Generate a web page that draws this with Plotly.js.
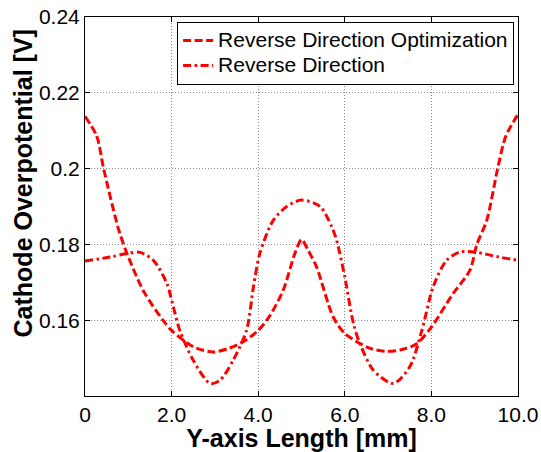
<!DOCTYPE html>
<html>
<head>
<meta charset="utf-8">
<script src="https://cdn.plot.ly/plotly-3.0.1.min.js"></script>
<style>
  html, body { margin: 0; padding: 0; background: #fff; }
  #chart { width: 541px; height: 452px; }
</style>
</head>
<body>
<div id="chart"></div>
<script>
// Cathode overpotential along the Y axis for two flow configurations
var seriesNames = ['Reverse Direction Optimization', 'Reverse Direction'];

var optX = [0, 0.27, 0.43, 0.78, 0.97, 1.35, 1.8, 2.0, 2.5, 2.96, 3.3, 3.65, 4.0, 4.27, 4.58, 4.85, 5.0, 5.15, 5.35, 5.73, 6.0, 6.58, 6.97, 7.3, 7.66, 8.0, 8.5, 8.89, 9.05, 9.28, 9.53, 9.72, 10.0];
var optY = [0.2138, 0.2086, 0.2000, 0.1838, 0.1776, 0.1677, 0.1600, 0.1573, 0.1530, 0.1516, 0.1525, 0.1543, 0.1573, 0.1612, 0.1680, 0.1777, 0.1813, 0.1785, 0.1740, 0.1609, 0.1565, 0.1526, 0.1518, 0.1522, 0.1538, 0.1582, 0.1670, 0.1732, 0.1800, 0.1864, 0.2000, 0.2086, 0.2143];

var revX = [0, 0.6, 0.96, 1.27, 1.58, 1.89, 2.04, 2.19, 2.5, 2.89, 3.12, 3.42, 3.73, 3.89, 4.04, 4.35, 4.66, 5.0, 5.43, 5.7, 5.81, 6.0, 6.2, 6.35, 6.66, 7.12, 7.5, 7.78, 8.04, 8.35, 8.66, 9.05, 9.5, 10.0];
var revY = [0.1756, 0.1767, 0.1776, 0.1779, 0.1758, 0.1697, 0.1635, 0.1573, 0.1494, 0.1433, 0.1442, 0.1494, 0.1573, 0.1688, 0.1777, 0.1864, 0.1900, 0.1917, 0.1900, 0.1846, 0.1811, 0.1714, 0.1591, 0.1538, 0.1468, 0.1433, 0.1477, 0.1573, 0.1688, 0.1758, 0.1780, 0.1779, 0.1768, 0.1758];

var xTickVals = [0, 2, 4, 6, 8, 10];
var xTickText = ['0', '2.0', '4.0', '6.0', '8.0', '10.0'];
var yTickVals = [0.16, 0.18, 0.20, 0.22, 0.24];
var yTickText = ['0.16', '0.18', '0.2', '0.22', '0.24'];

var xTitle = 'Y-axis Length [mm]';
var yTitle = 'Cathode Overpotential [V]';

var FONT = 'Liberation Sans, Arial, Helvetica, sans-serif';
var TITLE_FONT = { family: FONT, size: 25, color: '#000', weight: 'bold' };

// legend rows are packed tighter than the default line height
function legendLabel(s) { return '<span style="font-size:21px">' + s + '</span>'; }

var traces = [
  {
    x: optX, y: optY, name: legendLabel(seriesNames[0]), type: 'scatter', mode: 'lines',
    line: { color: '#ff0000', width: 3, dash: '8px,3.5px', shape: 'spline', smoothing: 0.8 }
  },
  {
    x: revX, y: revY, name: legendLabel(seriesNames[1]), type: 'scatter', mode: 'lines',
    line: { color: '#ff0000', width: 3, dash: '8px,3.5px,2.5px,3.5px', shape: 'spline', smoothing: 0.8 }
  }
];

var axisCommon = {
  showline: true, linecolor: '#000', linewidth: 1, mirror: 'ticks',
  ticks: 'inside', ticklen: 5, tickcolor: '#000', tickwidth: 1,
  showgrid: true, gridcolor: '#8c8c8c', gridwidth: 1, griddash: '1px,2px',
  zeroline: false, tickfont: { family: FONT, size: 21, color: '#000' }
};

var layout = {
  width: 541, height: 452,
  margin: { l: 85, r: 23, t: 17, b: 56, pad: 0 },
  paper_bgcolor: '#fff', plot_bgcolor: '#fff',
  showlegend: true,
  xaxis: Object.assign({}, axisCommon, {
    range: [0, 10], tickmode: 'array', tickvals: xTickVals, ticktext: xTickText,
    title: { text: xTitle, font: TITLE_FONT, standoff: 4 }
  }),
  yaxis: Object.assign({}, axisCommon, {
    range: [0.14, 0.24], tickmode: 'array', tickvals: yTickVals, ticktext: yTickText
  }),
  // y-axis label sits a little above the middle of the axis
  annotations: [{
    text: yTitle, font: TITLE_FONT, textangle: -90,
    xref: 'paper', yref: 'paper', x: -0.143, y: 0.561,
    xanchor: 'center', yanchor: 'middle', showarrow: false
  }],
  legend: {
    x: 0.991, xanchor: 'right', y: 0.987, yanchor: 'top',
    bgcolor: '#fff', bordercolor: '#000', borderwidth: 1,
    font: { family: FONT, size: 17, color: '#000' }
  }
};

Plotly.newPlot('chart', traces, layout, { staticPlot: true, displayModeBar: false });
</script>
</body>
</html>
